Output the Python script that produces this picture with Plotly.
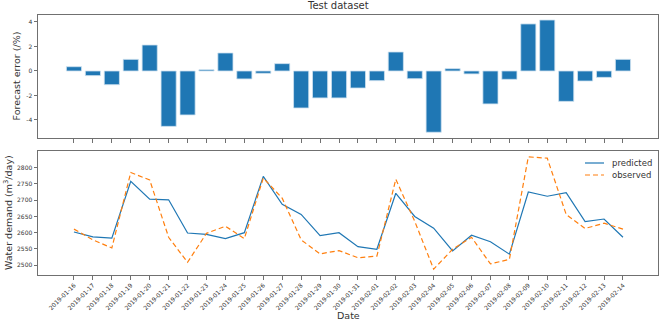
import plotly.graph_objects as go
from plotly.subplots import make_subplots

dates = ["2019-01-16", "2019-01-17", "2019-01-18", "2019-01-19", "2019-01-20",
         "2019-01-21", "2019-01-22", "2019-01-23", "2019-01-24", "2019-01-25",
         "2019-01-26", "2019-01-27", "2019-01-28", "2019-01-29", "2019-01-30",
         "2019-01-31", "2019-02-01", "2019-02-02", "2019-02-03", "2019-02-04",
         "2019-02-05", "2019-02-06", "2019-02-07", "2019-02-08", "2019-02-09",
         "2019-02-10", "2019-02-11", "2019-02-12", "2019-02-13", "2019-02-14"]

forecast_error = [0.35, -0.38, -1.12, 0.95, 2.12, -4.52, -3.59, 0.10, 1.47, -0.65,
                  -0.19, 0.60, -3.02, -2.20, -2.20, -1.39, -0.79, 1.55, -0.63, -5.00,
                  0.19, -0.24, -2.69, -0.68, 3.84, 4.16, -2.48, -0.82, -0.52, 0.95]

predicted = [2602, 2587, 2583, 2758, 2703, 2701, 2599, 2595, 2582, 2600,
             2773, 2687, 2656, 2591, 2600, 2557, 2549, 2721, 2650, 2614,
             2544, 2592, 2572, 2534, 2725, 2712, 2723, 2634, 2642, 2586]

observed = [2611, 2578, 2553, 2785, 2762, 2586, 2509, 2598, 2620, 2582,
            2768, 2706, 2578, 2535, 2545, 2523, 2528, 2764, 2635, 2488,
            2549, 2586, 2504, 2518, 2833, 2829, 2656, 2613, 2629, 2611]

err_ticks = [-4, -2, 0, 2, 4]
dem_ticks = [2500, 2550, 2600, 2650, 2700, 2750, 2800]
series_names = ["predicted", "observed"]

BLUE = "#1f77b4"
ORANGE = "#ff7f0e"
AX = "#707070"
TXT = "#333333"
FONT = "DejaVu Sans"

# layout in pixels -> paper
L, R, T, B, W, H = 38, 2, 15, 47, 660, 322
PW, PH = W - L - R, H - T - B


def px_x(px):
    return (px - L) / PW


def px_y(py):
    return (H - B - py) / PH


fig = make_subplots(rows=2, cols=1, shared_xaxes=False, vertical_spacing=0.05)

fig.add_trace(go.Bar(x=dates, y=forecast_error,
                     marker=dict(color=BLUE, line=dict(color="#cfe2f0", width=0.8)),
                     showlegend=False), row=1, col=1)
fig.add_trace(go.Scatter(x=dates, y=predicted, mode="lines", name=series_names[0], showlegend=False,
                         line=dict(color=BLUE, width=1.2)), row=2, col=1)
fig.add_trace(go.Scatter(x=dates, y=observed, mode="lines", name=series_names[1], showlegend=False,
                         line=dict(color=ORANGE, width=1.2, dash="5px,3px")), row=2, col=1)

common_x = dict(type="category", range=[-1.9, 30.85], showline=True, mirror=True, linecolor=AX, linewidth=1,
                ticks="outside", ticklen=3.5, tickcolor=AX, tickwidth=0.8, showgrid=False, zeroline=False,
                automargin=False, tickfont=dict(family=FONT, size=6, color=TXT))
fig.update_xaxes(**common_x, showticklabels=False, row=1, col=1)
fig.update_xaxes(**common_x, tickangle=-45, row=2, col=1)

common_y = dict(showline=True, mirror=True, linecolor=AX, linewidth=1, ticks="outside", ticklen=3.5,
                tickcolor=AX, tickwidth=0.8, showgrid=False, zeroline=False, automargin=False,
                tickfont=dict(family=FONT, size=6, color=TXT))
fig.update_yaxes(**common_y, range=[-5.47, 4.57], tickvals=err_ticks, ticktext=[str(v) for v in err_ticks],
                 row=1, col=1)
fig.update_yaxes(**common_y, range=[2470, 2851], tickvals=dem_ticks, row=2, col=1)

# manual legend (matplotlib style: short sample line + label)
legend_shapes = []
legend_ann = []
for i, (name, col, dash) in enumerate(zip(series_names, [BLUE, ORANGE], ["solid", "5px,3px"])):
    yy = px_y(163 + 12 * i)
    legend_shapes.append(dict(type="line", xref="paper", yref="paper", x0=px_x(585), x1=px_x(604),
                              y0=yy, y1=yy, line=dict(color=col, width=1.2, dash=dash)))
    legend_ann.append(dict(text=name, x=px_x(610), y=yy, xref="paper", yref="paper", xanchor="left",
                           yanchor="middle", showarrow=False, font=dict(family=FONT, size=8.5, color=TXT)))

fig.update_layout(
    width=W, height=H,
    margin=dict(l=L, r=R, t=T, b=B),
    plot_bgcolor="white", paper_bgcolor="white",
    bargap=0.2,
    showlegend=False,
    font=dict(family=FONT, color=TXT),
    xaxis=dict(domain=[0, 1]), xaxis2=dict(domain=[0, 1]),
    yaxis=dict(domain=[px_y(138), 1]), yaxis2=dict(domain=[0, px_y(151)]),
    shapes=legend_shapes,
    annotations=[
        dict(text="Test dataset", x=px_x(338), y=px_y(6), xref="paper", yref="paper",
             xanchor="center", yanchor="middle", showarrow=False, font=dict(family=FONT, size=10, color=TXT)),
        dict(text="Forecast error (/%)", x=px_x(16), y=px_y(76.5), xref="paper", yref="paper",
             xanchor="center", yanchor="middle", textangle=-90, showarrow=False,
             font=dict(family=FONT, size=9.5, color=TXT)),
        dict(text="Water demand (m<sup>3</sup>/day)", x=px_x(8), y=px_y(213), xref="paper",
             yref="paper", xanchor="center", yanchor="middle", textangle=-90, showarrow=False,
             font=dict(family=FONT, size=9.5, color=TXT)),
        dict(text="Date", x=px_x(348), y=px_y(315.5), xref="paper", yref="paper",
             xanchor="center", yanchor="middle", showarrow=False, font=dict(family=FONT, size=9.5, color=TXT)),
    ] + legend_ann,
)

fig.write_html("out.html", config={"displayModeBar": False},
               post_script="document.body.style.margin='0';document.body.style.padding='0';"
                           "document.body.style.overflow='hidden';")
